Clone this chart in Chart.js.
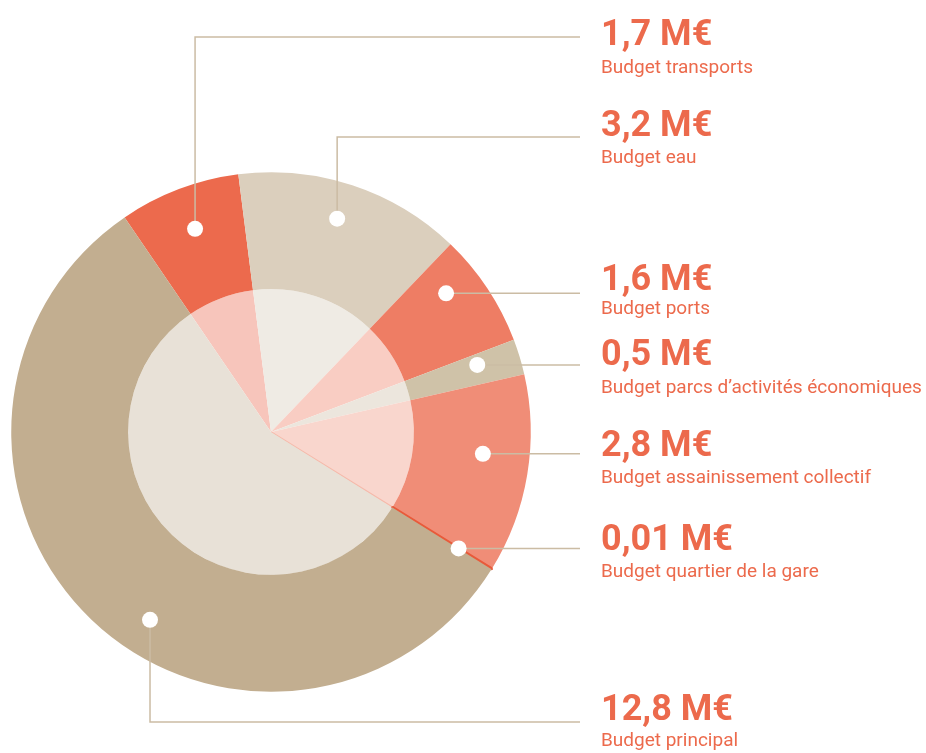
<!DOCTYPE html>
<html lang="fr">
  <head>
    <meta charset="UTF-8" />
    <title>Budgets</title>
    <style>
      body {
        margin: 0;
        padding: 0;
        background: #ffffff;
      }
      .wrap {
        width: 926px;
        height: 753px;
        position: relative;
      }
    </style>
  </head>
  <body>
    <div class="wrap">
      <canvas id="budgetChart" width="926" height="753"></canvas>
    </div>

    <script src="https://cdn.jsdelivr.net/npm/chart.js"></script>
    <script>
      // data
      const budgets = [
        "Budget transports",
        "Budget eau",
        "Budget ports",
        "Budget parcs d\u2019activités économiques",
        "Budget assainissement collectif",
        "Budget quartier de la gare",
        "Budget principal",
      ];
      const amounts = [1.7, 3.2, 1.6, 0.5, 2.8, 0.01, 12.8];
      const amountLabels = ["1,7 M€", "3,2 M€", "1,6 M€", "0,5 M€", "2,8 M€", "0,01 M€", "12,8 M€"];

      // styles
      const outerColors = ["#ec6a4d", "#dbcfbd", "#ee7d64", "#cfc2a8", "#f08d77", "#e85a3a", "#c2ae90"];
      const innerColors = ["#f7c5bb", "#efebe4", "#f9cdc3", "#ece6dd", "#f9d6cd", "#f6b9aa", "#e8e1d7"];
      const textColor = "#ec6a4c";
      const lineColor = "#cbbca4";

      // leader layout: where the dot sits inside its slice, and where the text goes
      const dotAt = [0.51, 0.48, 0.31, 0.35, 0.42, 0.5, 0.446];
      const dotR = [0.835, 0.86, 0.86, 0.835, 0.82, 0.85, 0.86];
      const bend = ["up", "up", "flat", "flat", "flat", "flat", "down"];
      const bendY = [37, 137, null, null, null, null, 722];
      const valueBase = [45, 136, 290, 365, 456, 550, 720];
      const nameBase = [73, 163, 314, 393, 483, 577, 746];
      const lineEndX = 580;
      const textX = 601;

      const leaders = {
        id: "leaders",
        afterDatasetsDraw(chart) {
          const ctx = chart.ctx;
          const arcs = chart.getDatasetMeta(0).data;
          ctx.save();
          arcs.forEach((arc, i) => {
            const a = arc.startAngle + dotAt[i] * (arc.endAngle - arc.startAngle);
            const r = arc.outerRadius * dotR[i];
            const dx = arc.x + r * Math.cos(a);
            const dy = arc.y + r * Math.sin(a);

            ctx.strokeStyle = lineColor;
            ctx.lineWidth = 1.5;
            ctx.beginPath();
            ctx.moveTo(dx, dy);
            if (bend[i] === "flat") {
              ctx.lineTo(lineEndX, dy);
            } else {
              ctx.lineTo(dx, bendY[i]);
              ctx.lineTo(lineEndX, bendY[i]);
            }
            ctx.stroke();

            ctx.fillStyle = "#ffffff";
            ctx.beginPath();
            ctx.arc(dx, dy, 8, 0, Math.PI * 2);
            ctx.fill();

            ctx.fillStyle = textColor;
            ctx.textAlign = "left";
            ctx.textBaseline = "alphabetic";
            ctx.font = "bold 36px Roboto";
            ctx.fillText(amountLabels[i], textX, valueBase[i]);
            ctx.font = "19px Roboto";
            ctx.fillText(budgets[i], textX, nameBase[i]);
          });
          ctx.restore();
        },
      };

      new Chart(document.getElementById("budgetChart"), {
        type: "pie",
        data: {
          labels: budgets,
          datasets: [
            {
              data: amounts,
              backgroundColor: outerColors,
              borderColor: outerColors,
              borderWidth: amounts.map((v) => (v < 0.1 ? 2.5 : 0)),
              weight: 117,
            },
            {
              data: amounts,
              backgroundColor: innerColors,
              borderColor: innerColors,
              borderWidth: amounts.map((v) => (v < 0.1 ? 1.5 : 0)),
              weight: 143,
            },
          ],
        },
        plugins: [leaders],
        options: {
          responsive: false,
          animation: false,
          rotation: -34.3,
          layout: {
            padding: { left: 10, right: 394, top: 171, bottom: 60 },
          },
          plugins: {
            legend: { display: false },
            tooltip: { enabled: false },
          },
        },
      });
    </script>
  </body>
</html>
